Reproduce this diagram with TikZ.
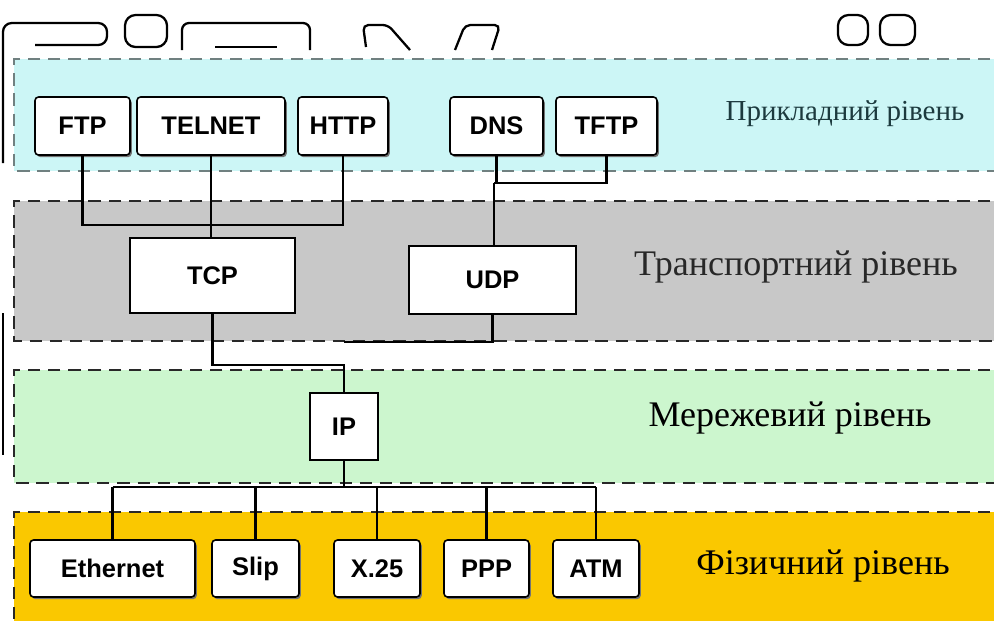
\documentclass[tikz,border=0pt]{standalone}
\usepackage{fontspec}
\setmainfont{Liberation Serif}
\setsansfont{Liberation Sans}
\usepackage{tikz}
\usetikzlibrary{positioning,shadows}
\definecolor{layer1}{RGB}{204,246,246}
\definecolor{layer2}{RGB}{200,200,200}
\definecolor{layer3}{RGB}{204,246,206}
\definecolor{layer4}{RGB}{250,200,0}
\definecolor{edge1}{RGB}{112,128,128}
\definecolor{edge2}{RGB}{40,40,40}
\definecolor{label1}{RGB}{28,58,62}
\newcommand{\filllayer}[4]{\fill[#1] (14,#2) rectangle (1010,#3);
  \draw[layerline,draw=#4] (1010,#2) -- (14,#2) -- (14,#3) -- (1010,#3);}

\begin{document}
\begin{tikzpicture}[x=0.02cm,y=-0.02cm,
  layerline/.style={line width=1.4pt,dash pattern=on 7pt off 4.5pt},
  protobox/.style={draw,line width=0.9pt,rounded corners=2pt,fill=white,inner sep=0pt,
    font=\sffamily\bfseries\fontsize{14.5}{16}\selectfont,
    drop shadow={shadow xshift=1pt,shadow yshift=-1.2pt,fill=black!55,opacity=1}},
  transbox/.style={draw,line width=1.4pt,fill=white,inner sep=0pt,
    font=\sffamily\bfseries\fontsize{14.5}{16}\selectfont},
  layername/.style={font=\fontsize{20.5}{24}\selectfont},
  wire/.style={line width=1.3pt},
  fragment/.style={line width=1.3pt}]
\useasboundingbox (0,0) rectangle (994,620);
\clip (0,0) rectangle (994,620);
\filllayer{layer1}{59}{171}{edge1}
\filllayer{layer2}{201}{341}{edge2}
\filllayer{layer3}{370}{483}{edge2}
\filllayer{layer4}{512}{640}{edge2}
\draw[fragment,rounded corners=5] (3,163) -- (3,23) -- (107,23) -- (107,45) -- (35,45);
\draw[fragment] (3,313) -- (3,455);
\draw[fragment,rounded corners=6] (125,15) rectangle (167,47);
\draw[fragment,rounded corners=4] (182,50) -- (182,23) -- (310,23) -- (310,50);
\draw[fragment] (215,47) -- (277,47);
\draw[fragment,rounded corners=3] (366,47) -- (363,25) -- (388,25) -- (410,50);
\draw[fragment,rounded corners=3] (455,50) -- (465,25) -- (500,25) -- (492,50);
\draw[fragment,rounded corners=6] (838,15) rectangle (868,45);
\draw[fragment,rounded corners=6] (880,15) rectangle (915,45);
\foreach \n/\x/\w/\t in {ftp/82.5/95/FTP,telnet/211/148/TELNET,http/343/90/HTTP,
  dns/496.5/93/DNS,tftp/606.5/101/TFTP}
  \node[protobox,minimum width=\w*0.02cm,minimum height=1.16cm] (\n) at (\x,126) {\t};
\node[transbox,minimum width=3.3cm,minimum height=1.5cm] (tcp) at (212.5,275.5) {TCP};
\node[transbox,minimum width=3.34cm,minimum height=1.36cm] (udp) at (492.5,280) {UDP};
\node[transbox,minimum width=1.36cm,minimum height=1.34cm] (ip) at (344,426.5) {IP};
\foreach \n/\x/\w/\t in {eth/112.5/165/Ethernet,slip/255.5/87/Slip,x25/377/86/X.25,
  ppp/486.5/85/PPP,atm/596/86/ATM}
  \node[protobox,minimum width=\w*0.02cm,minimum height=1.14cm] (\n) at (\x,568.5) {\t};
\node[layername,font=\fontsize{16.5}{19}\selectfont,text=label1] (appname) at (845,114) {Прикладний рівень};
\node[layername,text=edge2] (transname) at (796,267) {Транспортний рівень};
\node[layername] (netname) at (790,418) {Мережевий рівень};
\node[layername] (physname) at (823,566) {Фізичний рівень};
\coordinate (tcpjoin) at (212,225);
\coordinate (udpjoin) at (494,183);
\coordinate (tcpbend) at (344,365);
\coordinate (udpbend) at (344,342);
\coordinate (bus) at (344,487);
\draw[wire] (ftp.south) |- (tcpjoin) -| (http.south);
\draw[wire] (telnet.south) -- (telnet.south |- tcp.north);
\draw[wire] (dns.south) |- (udpjoin) -| (tftp.south);
\draw[wire] (udpjoin) -- (udpjoin |- udp.north);
\draw[wire] (tcp.south) |- (tcpbend) -- (ip.north);
\draw[wire] (udp.south) |- (udpbend);
\draw[wire] (ip.south) -- (bus);
\draw[wire] (eth.north |- bus) -- (atm.north |- bus);
\foreach \n in {eth,slip,x25,ppp,atm}
  \draw[wire] (\n.north) -- (\n.north |- bus);
\end{tikzpicture}
\end{document}
